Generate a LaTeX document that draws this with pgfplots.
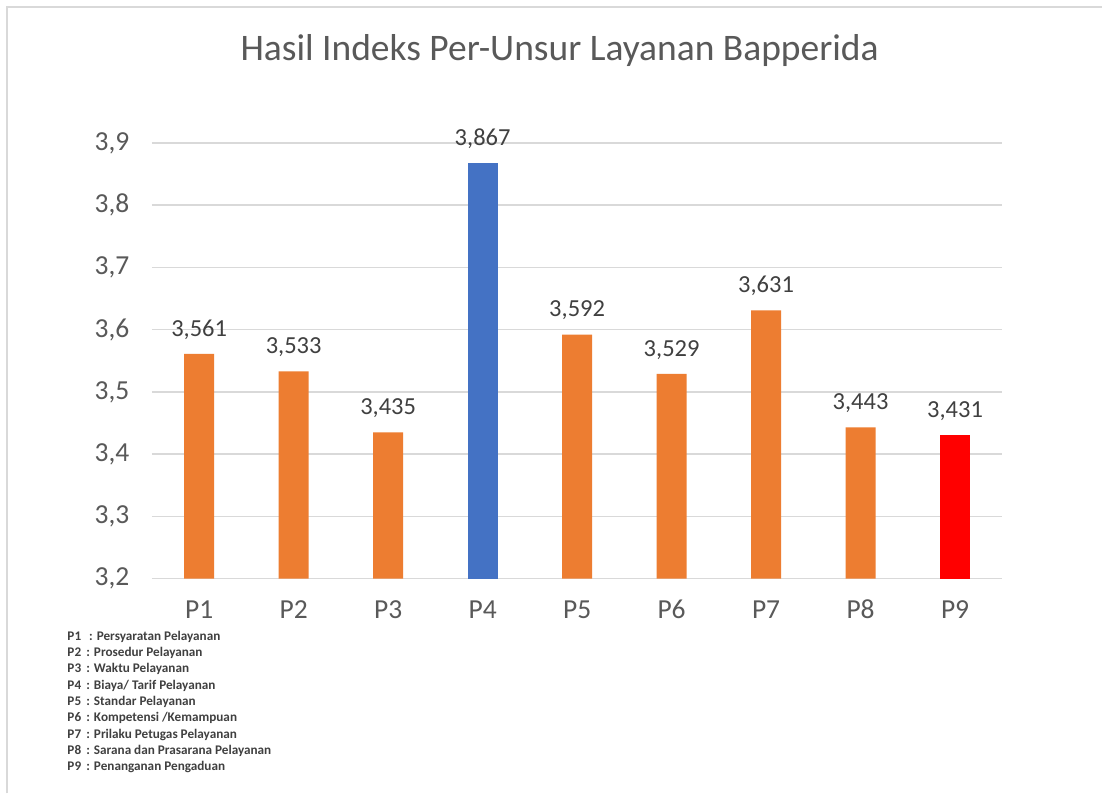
\documentclass[border=0pt]{standalone}
\usepackage{pgfplots}
\pgfplotsset{compat=1.18}
\usepackage{fontspec}
\setmainfont{Carlito}
\definecolor{cOrange}{HTML}{ED7D31}
\definecolor{cBlue}{HTML}{4472C4}
\definecolor{cRed}{HTML}{FF0000}
\definecolor{cGrid}{HTML}{D9D9D9}
\definecolor{cTick}{HTML}{595959}
\definecolor{cLab}{HTML}{404040}
\begin{document}
\begin{tikzpicture}[x=1pt,y=1pt]
\fill[white] (0,0) rectangle (1103,794);
\draw[cGrid, line width=1.5pt] (7,0) -- (7,787) -- (1103,787);
\node[font=\fontsize{37.5}{44}\selectfont, text=cTick] at (560,743) {Hasil Indeks Per-Unsur Layanan Bapperida};
\begin{axis}[at={(152pt,215pt)}, anchor=south west, scale only axis,
  width=851pt, height=436pt,
  xmin=-0.5, xmax=8.5, ymin=3.2, ymax=3.9,
  ytick={3.2,3.3,3.4,3.5,3.6,3.7,3.8,3.9},
  xtick={0,1,2,3,4,5,6,7,8},
  xticklabels={P1,P2,P3,P4,P5,P6,P7,P8,P9},
  axis line style={draw=none},
  major tick length=0pt,
  ymajorgrids, grid style={cGrid, line width=1.3pt},
  ybar, bar width=30pt, bar shift=0pt,
  ticklabel style={font=\fontsize{27.5}{32}\selectfont, text=cTick},
  yticklabel style={xshift=-19pt},
  xticklabel style={yshift=-18pt, text height=18pt, text depth=5pt},
  /pgf/number format/.cd, assume math mode=true, use comma, fixed, fixed zerofill, precision=1,
  /pgfplots/.cd,
  nodes near coords={\pgfmathprintnumber[fixed, fixed zerofill, precision=3, use comma]{\pgfplotspointmeta}},
  every node near coord/.append style={font=\fontsize{24.5}{28}\selectfont, text=cLab, yshift=11pt},
]
\addplot[fill=cOrange, draw=none] coordinates {(0,3.561) (1,3.533) (2,3.435) (4,3.592) (5,3.529) (6,3.631) (7,3.443)};
\addplot[fill=cBlue, draw=none] coordinates {(3,3.867)};
\addplot[fill=cRed, draw=none] coordinates {(8,3.431)};
\end{axis}
\node[anchor=north west, align=left, text=cLab, font=\bfseries\fontsize{13.2}{16.3}\selectfont] at (64,166) {%
P1\hspace{5pt} : Persyaratan Pelayanan\\
P2 \,: Prosedur Pelayanan\\
P3 \,: Waktu Pelayanan\\
P4 \,: Biaya/ Tarif Pelayanan\\
P5 \,: Standar Pelayanan\\
P6 \,: Kompetensi /Kemampuan\\
P7 \,: Prilaku Petugas Pelayanan\\
P8 \,: Sarana dan Prasarana Pelayanan\\
P9 \,: Penanganan Pengaduan};
\end{tikzpicture}
\end{document}
